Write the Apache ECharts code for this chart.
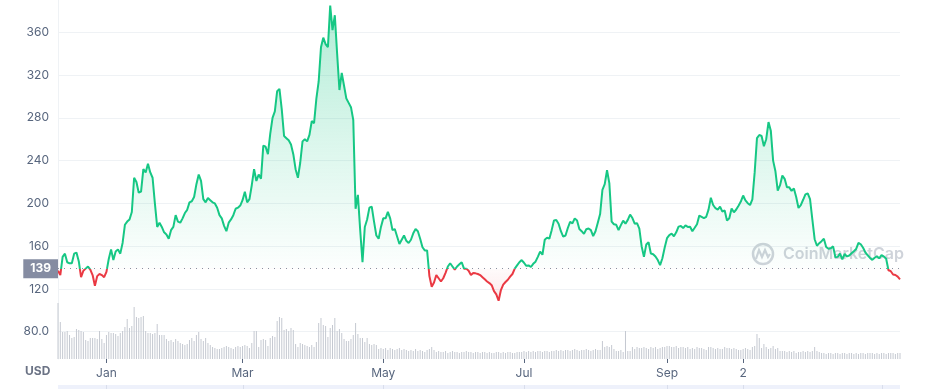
<!DOCTYPE html>
<html><head><meta charset="utf-8">
<script src="https://cdn.jsdelivr.net/npm/echarts@6/dist/echarts.min.js"></script>
<style>html,body{margin:0;padding:0;background:#fff}#c{width:933px;height:389px}</style>
</head><body><div id="c"></div>
<script>
// Day index 0 = first day shown (about 11 Dec); one value per day
const tickDays = [21, 80, 141, 202, 264, 297];
const tickLabels = ['Jan', 'Mar', 'May', 'Jul', 'Sep', '2'];
const bandDays = [21, 80, 141, 202, 264, 297, 357];
const yTicks = [80, 120, 160, 200, 240, 280, 320, 360];
const baseline = 139;
const currency = 'USD';

const price = [
137,133,150,153,145,144,144,153,154,146,
131,137,139,141,138,133,123,132,134,133,
131,136,148,157,147,155,157,153,163,180,
183,185,192,224,220,210,211,232,229,237,
229,224,200,178,182,178,173,171,167,175,
178,189,183,182,186,191,194,201,202,206,
218,227,221,204,201,205,203,201,200,196,
189,186,179,174,182,185,189,195,196,198,
203,211,201,204,217,232,221,227,223,254,
253,246,265,280,286,305,307,288,263,261,
259,255,246,232,224,238,258,260,258,264,
277,275,298,314,346,355,349,346,385,362,
376,340,306,322,310,298,294,290,278,195,
208,175,145,178,185,196,197,183,170,167,
178,186,186,192,186,175,176,169,162,166,
170,165,163,166,172,176,174,167,159,156,
156,132,122,126,133,130,127,130,135,141,
144,141,138,141,143,145,139,139,137,133,
135,134.6,134,133,131,129,127,125.5,123.5,118,
115,109,119,124,126.5,128.6,131.5,134,139,142,
145,147,144.5,141.6,142,140.5,143.5,145.5,150,155,
152,166,168,167,175,184,184.4,181,174,169,
170,177,182.8,181.3,186,184,176,174,171.5,175.8,
176.5,175,169.5,174,182,190,212.6,218,231,219,
183,180.5,180,175,179.7,183.8,181,184.6,189.6,186.3,
181,181.5,176.5,160,150,161.5,163.7,153.2,152.5,150.4,
147,142.3,148.7,158.8,167.5,170.4,171.7,169.3,173,178.3,
178.8,176.9,179.5,178,178.2,174,177.2,180.5,188.6,187.4,
186.2,187.5,194.2,205.3,198.5,195.5,194.2,196.9,192.3,193.4,
184,186.1,195.2,191.7,194.3,197.9,201.7,207.4,202.8,200.2,
198.5,203.7,229,261,264,263,253.5,260,276,268,
240,230,212,217,226,223,215,215,211.7,214,
206,195.7,198.4,203.4,208.5,209.4,204,185,166.5,160.4,
162.8,164.7,167,159.3,157.6,158,159.8,149.6,150,153,
147.7,152.7,150.4,151.3,153.3,155.3,157.4,163,161.8,158.5,
154.2,151.5,149,147.2,149.2,150.6,148.6,151.7,150.3,148.3,
137.5,136.6,133.5,133,131.5,129
];

// relative volume (arbitrary units)
const volume = [
56,37,27,27,28,24,21,22,30,29,
28,27,19,18,21,21,21,20,28,20,
16,24,27,26,26,25,23,26,28,32,
40,31,33,52,42,41,42,43,28,26,
26,25,26,35,24,24,24,20,18,19,
17,20,18,16,15,14,15,19,21,18,
24,27,20,18,21,16,14,12,11,10,
10,11,12,13,12,11,10,12,13,12,
13,14,13,11,16,28,28,12,19,20,
19,13,21,23,22,38,42,41,29,30,
28,31,29,15,12,16,15,14,13,12,
14,12,17,36,41,34,33,22,31,34,
41,28,30,26,20,18,18,20,24,36,
25,21,21,17,21,15,14,15,14,10,
11,10,11,9,11,10,9,10,11,9,
10,9,8,9,8,10,8,9,8,7,
9,10,12,9,7,8,7,7,8,6,
7,8,7,7,6,7,7,8,7,7,
6,7,7,6,7,7,6,7,6,6,
7,7,6,7,6,7,7,6,6,7,
7,7,8,7,8,7,8,7,8,8,
7,8,8,7,8,8,9,8,9,8,
9,9,8,9,10,9,8,9,9,10,
9,8,9,10,9,9,18,12,13,12,
14,10,8,8,9,7,28,8,8,12,
10,12,11,11,12,11,10,12,11,12,
10,11,12,12,13,13,12,12,13,11,
12,12,11,12,10,11,10,12,11,11,
10,9,12,12,11,10,11,10,10,12,
11,11,10,11,10,9,9,10,11,10,
9,12,13,25,21,11,15,12,10,11,
13,10,11,8,8,8,7,8,7,8,
6,7,7,8,7,8,7,8,12,8,
7,6,6,5,6,6,5,6,6,5,
6,6,5,6,6,5,6,5,6,6,
5,6,6,6,5,6,5,6,6,5,
6,6,6,5,6,6
];

const GREEN = '#16c784', RED = '#ea3943', GREY = '#58667e';
const chart = echarts.init(document.getElementById('c'), null, {renderer: 'canvas'});
const priceData = price.map((v, i) => [i, v]);
const volData = volume.map((v, i) => [i, v]);

const option = {
  animation: false,
  textStyle: {fontFamily: 'Inter, "Noto Sans", sans-serif'},
  grid: {left: 58, right: 33, top: 0, bottom: 30},
  xAxis: {
    type: 'value', min: 0, max: price.length - 1,
    axisLine: {show: false},
    axisTick: {show: true, length: 4, lineStyle: {color: GREY}, customValues: tickDays},
    axisLabel: {customValues: tickDays, formatter: v => tickLabels[tickDays.indexOf(v)],
      color: GREY, fontSize: 12, margin: 8},
    splitLine: {show: false}
  },
  yAxis: [{
    type: 'value', min: 54.5, max: 390.2,
    axisLine: {show: true, lineStyle: {color: '#eff2f5'}},
    axisTick: {show: false, customValues: yTicks},
    axisLabel: {customValues: yTicks, formatter: v => v === 80 ? '80.0' : String(v),
      color: GREY, fontSize: 12, margin: 9},
    splitLine: {show: true, lineStyle: {color: '#eff2f5'}}
  }, {
    type: 'value', min: 0, max: 359, show: false, splitLine: {show: false}
  }],
  visualMap: {
    show: false, type: 'piecewise', seriesIndex: 0, dimension: 1,
    pieces: [{gt: 0, lte: baseline, color: RED}, {gt: baseline, lte: 1000, color: GREEN}]
  },
  series: [{
    type: 'line', data: priceData, symbol: 'none', showSymbol: false, z: 4,
    lineStyle: {width: 2},
    areaStyle: {
      origin: baseline, opacity: 1,
      color: new echarts.graphic.LinearGradient(0, 0, 0, 389, [
        {offset: 0, color: 'rgba(22,199,132,0.34)'},
        {offset: 0.35, color: 'rgba(22,199,132,0.16)'},
        {offset: 0.689, color: 'rgba(22,199,132,0.01)'},
        {offset: 0.69, color: 'rgba(234,57,67,0.02)'},
        {offset: 0.78, color: 'rgba(234,57,67,0.12)'},
        {offset: 1, color: 'rgba(234,57,67,0.18)'}
      ], true)
    },
    markLine: {
      silent: true, symbol: 'none', animation: false,
      data: [{yAxis: baseline}],
      lineStyle: {color: '#8a91a0', type: [1, 5], width: 1},
      label: {show: true, position: 'start', distance: 0, formatter: String(baseline),
        backgroundColor: '#858ca2', color: '#fff', fontWeight: 'bold', fontSize: 12,
        padding: [4, 7, 3, 7]}
    }
  }, {
    type: 'bar', yAxisIndex: 1, data: volData, barWidth: 1, silent: true, z: 2,
    itemStyle: {color: '#c5c9d1'}
  }]
};
chart.setOption(option);

// decorations: currency label, watermark, bottom band
const x0 = chart.convertToPixel({xAxisIndex: 0}, 0);
const x1 = chart.convertToPixel({xAxisIndex: 0}, price.length - 1);
const graphics = [
  {type: 'text', left: 25, top: 365, z: 10,
   style: {text: currency, font: 'bold 12px Inter, sans-serif', fill: '#6b7385'}},
  {type: 'rect', shape: {x: x0, y: 385, width: x1 - x0, height: 6}, z: 1,
   style: {fill: '#eef1fb'}},
  {type: 'group', z: 1, children: [
    {type: 'circle', shape: {cx: 763, cy: 254, r: 10}, style: {fill: 'none', stroke: '#cfd3da', lineWidth: 2.5}},
    {type: 'polyline', shape: {points: [[756, 259], [759, 250], [762, 257], [765, 250], [768, 257], [770, 254]]},
     style: {fill: 'none', stroke: '#cfd3da', lineWidth: 2.2}},
    {type: 'text', x: 783, y: 254,
     style: {text: 'CoinMarketCap', font: '600 16px Inter, sans-serif', fill: '#cfd3da',
       textVerticalAlign: 'middle', verticalAlign: 'middle'}}
  ]}
];
bandDays.forEach(d => {
  const px = Math.round(chart.convertToPixel({xAxisIndex: 0}, d)) + 0.5;
  graphics.push({type: 'line', z: 2, shape: {x1: px, y1: 385, x2: px, y2: 389},
    style: {stroke: '#d9deec', lineWidth: 1}});
});
chart.setOption({graphic: graphics});
</script>
</body></html>
